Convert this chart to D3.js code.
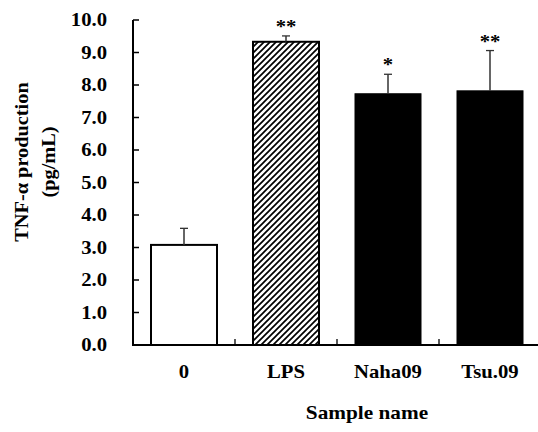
<!DOCTYPE html>
<html><head><meta charset="utf-8">
<script src="https://cdn.jsdelivr.net/npm/d3@7"></script>
<style>
body{margin:0;background:#fff;}
text{font-family:"Liberation Serif","Times New Roman",serif;font-weight:bold;fill:#000;}
</style></head>
<body>
<svg id="c" width="538" height="432"></svg>
<script>
const categories = ["0","LPS","Naha09","Tsu.09"];
const values = [3.08, 9.33, 7.73, 7.82];
const errors = [0.51, 0.18, 0.60, 1.24];
const significance = ["", "**", "*", "**"];
const yTicks = [0,1,2,3,4,5,6,7,8,9,10];
const yTitleLines = ["TNF-\u03b1 production","(pg/mL)"];
const xTitle = "Sample name";

const svg = d3.select("#c");
const x0 = 133, x1 = 541, yTop = 20, yBot = 345;
const sx = 1.15;

const y = d3.scaleLinear().domain([0,10]).range([yBot, yTop]);
const xb = d3.scaleBand().domain(categories).range([x0, x1]).paddingInner(1/3).paddingOuter(1/6);
const xg = d3.scaleBand().domain(categories).range([x0, x1]).padding(0);

const defs = svg.append("defs");
const pat = defs.append("pattern").attr("id","hatch").attr("patternUnits","userSpaceOnUse")
  .attr("width",6).attr("height",6);
pat.append("rect").attr("width",6).attr("height",6).attr("fill","#fff");
pat.append("path").attr("d","M0,6 L6,0 M-1.5,1.5 L1.5,-1.5 M4.5,7.5 L7.5,4.5")
  .attr("stroke","#000").attr("stroke-width",1.7);

const fills = ["#fff","url(#hatch)","#000","#000"];

// bars
svg.selectAll("rect.bar").data(categories).enter().append("rect")
  .attr("class","bar")
  .attr("x", d=>xb(d)+1)
  .attr("width", xb.bandwidth()-2)
  .attr("y", (d,i)=>y(values[i]))
  .attr("height", (d,i)=>yBot - y(values[i]))
  .attr("fill",(d,i)=>fills[i])
  .attr("stroke","#000")
  .attr("stroke-width",(d,i)=> i<2 ? 2 : 1);

// error bars
categories.forEach((c,i)=>{
  const cx = xb(c)+xb.bandwidth()/2;
  svg.append("line").attr("x1",cx).attr("x2",cx).attr("y1",y(values[i])).attr("y2",y(values[i]+errors[i]))
    .attr("stroke","#333").attr("stroke-width",1.5);
  svg.append("line").attr("x1",cx-4).attr("x2",cx+4).attr("y1",y(values[i]+errors[i])).attr("y2",y(values[i]+errors[i]))
    .attr("stroke","#333").attr("stroke-width",1.3);
  if(significance[i]){
    svg.append("text").attr("transform",`translate(${cx},${y(values[i]+errors[i])-3}) scale(${sx},1)`)
      .attr("text-anchor","middle").attr("font-size",18).text(significance[i]);
  }
});

// y axis
svg.append("line").attr("x1",x0).attr("x2",x0).attr("y1",yTop).attr("y2",yBot+1).attr("stroke","#000").attr("stroke-width",2);
yTicks.forEach(t=>{
  svg.append("line").attr("x1",x0).attr("x2",x0+6).attr("y1",y(t)).attr("y2",y(t)).attr("stroke","#000").attr("stroke-width",1.5);
  svg.append("text").attr("transform",`translate(107,${y(t)+6}) scale(${sx},1)`)
    .attr("text-anchor","end").attr("font-size",18).text(d3.format(".1f")(t));
});

// x axis
svg.append("line").attr("x1",x0-1).attr("x2",538).attr("y1",yBot).attr("y2",yBot).attr("stroke","#000").attr("stroke-width",2);
categories.slice(1).forEach(c=>{
  svg.append("line").attr("x1",xg(c)).attr("x2",xg(c)).attr("y1",yBot).attr("y2",yBot-6).attr("stroke","#000").attr("stroke-width",1.3);
});
categories.forEach(c=>{
  svg.append("text").attr("transform",`translate(${xb(c)+xb.bandwidth()/2},378) scale(${sx},1)`)
    .attr("text-anchor","middle").attr("font-size",18).text(c);
});
svg.append("text").attr("transform",`translate(367,419) scale(${sx},1)`)
  .attr("text-anchor","middle").attr("font-size",18.5).text(xTitle);

// y title
yTitleLines.forEach((l,i)=>{
  svg.append("text").attr("transform",`translate(${28+i*27},162) rotate(-90) scale(1.13,1)`)
    .attr("text-anchor","middle").attr("font-size",18).text(l);
});
</script>
</body></html>
